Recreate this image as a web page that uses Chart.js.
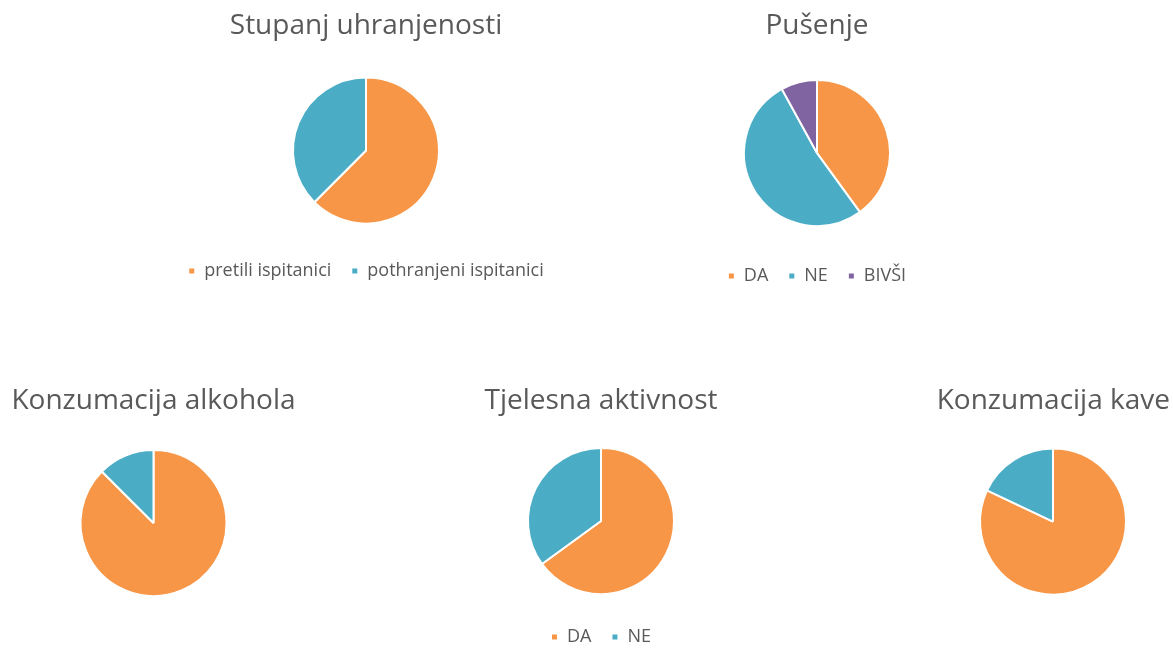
<!DOCTYPE html>
<html>
<head>
<meta charset="utf-8">
<script src="https://cdn.jsdelivr.net/npm/chart.js@4"></script>
<style>
  body { margin: 0; background: #fff; }
  #wrap { position: relative; width: 1173px; height: 648px; overflow: hidden; }
  #wrap canvas { position: absolute; }
</style>
</head>
<body>
<div id="wrap">
  <canvas id="uhranjenost"></canvas>
  <canvas id="pusenje"></canvas>
  <canvas id="alkohol"></canvas>
  <canvas id="aktivnost"></canvas>
  <canvas id="kava"></canvas>
</div>
<script>
// Data (share of respondents, %)
const uhranjenostLabels = ['pretili ispitanici', 'pothranjeni ispitanici'];
const uhranjenostValues = [62.5, 37.5];

const pusenjeLabels = ['DA', 'NE', 'BIVŠI'];
const pusenjeValues = [40, 52, 8];

const daNeLabels = ['DA', 'NE'];
const alkoholValues = [87.5, 12.5];
const aktivnostValues = [65, 35];
const kavaValues = [82, 18];

const ORANGE = '#F79646';
const BLUE = '#4BACC6';
const PURPLE = '#8064A2';
const TEXT = '#595959';
const FONT = '"Open Sans", "Noto Sans", sans-serif';

Chart.defaults.font.family = FONT;
Chart.defaults.color = TEXT;

function makePie(id, pos, title, labels, values, colors, showLegend, titleAlign) {
    const canvas = document.getElementById(id);
    canvas.width = Math.round(pos.w);
    canvas.height = Math.round(pos.h);
    canvas.style.left = pos.x + 'px';
    canvas.style.top = pos.y + 'px';

    return new Chart(canvas, {
        type: 'pie',
        data: {
            labels: labels,
            datasets: [{
                data: values,
                backgroundColor: colors,
                borderColor: '#ffffff',
                borderWidth: 2,
                radius: 73
            }]
        },
        options: {
            responsive: false,
            animation: false,
            layout: { padding: 0 },
            plugins: {
                title: {
                    display: true,
                    text: title,
                    align: titleAlign || 'center',
                    color: TEXT,
                    font: { size: 28, weight: 'normal' },
                    padding: { top: 9.5, bottom: 16 }
                },
                legend: {
                    display: showLegend,
                    position: 'bottom',
                    labels: {
                        boxWidth: 7,
                        boxHeight: 7,
                        padding: 20,
                        color: TEXT,
                        font: { size: 18 }
                    }
                },
                tooltip: { enabled: false }
            }
        }
    });
}

makePie('uhranjenost', { x: 166, y: 0, w: 400, h: 290 },
    'Stupanj uhranjenosti', uhranjenostLabels, uhranjenostValues, [ORANGE, BLUE], true);

makePie('pusenje', { x: 617, y: 0, w: 400, h: 295 },
    'Pušenje', pusenjeLabels, pusenjeValues, [ORANGE, BLUE, PURPLE], true);

makePie('alkohol', { x: 3, y: 375, w: 301, h: 237 },
    'Konzumacija alkohola', daNeLabels, alkoholValues, [ORANGE, BLUE], false);

makePie('aktivnost', { x: 425, y: 375, w: 352, h: 281 },
    'Tjelesna aktivnost', daNeLabels, aktivnostValues, [ORANGE, BLUE], true);

makePie('kava', { x: 936, y: 375, w: 234, h: 234 },
    'Konzumacija kave', daNeLabels, kavaValues, [ORANGE, BLUE], false, 'end');
</script>
</body>
</html>
